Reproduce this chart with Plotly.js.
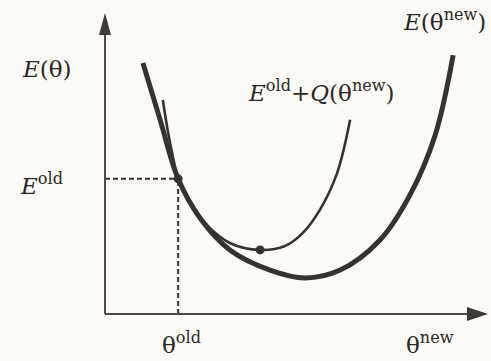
<!DOCTYPE html>
<html>
<head>
<meta charset="utf-8">
<script src="https://cdn.plot.ly/plotly-3.0.1.min.js"></script>
<style>
  html, body { margin: 0; padding: 0; background: #fbfaf6; }
  #chart { width: 491px; height: 361px; }
</style>
</head>
<body>
<div id="chart"></div>
<script>
// True error function E(theta), sampled along the thick curve
var thetaE = [0.99, 1.44, 1.91, 2.48, 3.26, 4.31, 5.22, 6.14, 7.18, 7.96, 8.62, 9.09];
var valuesE = [8.34, 6.45, 4.49, 3.19, 2.13, 1.46, 1.20, 1.46, 2.46, 3.95, 5.94, 8.60];

// Upper bound E_old + Q(theta_new), tangent to E at theta_old
var thetaQ = [1.51, 1.64, 1.78, 1.91, 2.22, 2.61, 3.26, 4.05, 4.70, 5.14, 5.61, 6.06, 6.40];
var valuesQ = [7.11, 6.08, 5.18, 4.49, 3.69, 3.02, 2.36, 2.13, 2.26, 2.66, 3.46, 4.68, 6.45];

// Current parameters and the minimiser of the bound
var thetaOld = 1.91, energyOld = 4.49;
var thetaNew = 4.05, boundNew = 2.13;

var ink = '#36322d';
var serif = 'DejaVu Serif';

var traces = [
  { x: [0, thetaOld], y: [energyOld, energyOld], mode: 'lines',
    line: { color: ink, width: 2, dash: '5px,3px' }, hoverinfo: 'skip' },
  { x: [thetaOld, thetaOld], y: [0, energyOld], mode: 'lines',
    line: { color: ink, width: 2, dash: '5px,3px' }, hoverinfo: 'skip' },
  { x: thetaQ, y: valuesQ, mode: 'lines',
    line: { color: ink, width: 2.6, shape: 'spline', smoothing: 1 } },
  { x: thetaE, y: valuesE, mode: 'lines',
    line: { color: ink, width: 5, shape: 'spline', smoothing: 1 } },
  { x: [thetaOld, thetaNew], y: [energyOld, boundNew], mode: 'markers',
    marker: { color: ink, size: 9 }, cliponaxis: false }
];

// pixel position -> paper coordinates for the plot box (105..488 x 13..314)
function px(x) { return (x - 105) / 383; }
function py(y) { return (314 - y) / 301; }

function label(text, x, y, yanchor) {
  return { text: text, xref: 'paper', yref: 'paper', x: px(x), y: py(y),
           xanchor: 'left', yanchor: yanchor || 'middle', showarrow: false,
           font: { family: serif, size: 23, color: '#2b2825' } };
}

var layout = {
  width: 491, height: 361,
  margin: { l: 105, r: 3, t: 13, b: 47, pad: 0 },
  font: { family: serif },
  paper_bgcolor: '#fbfaf6', plot_bgcolor: '#fbfaf6',
  showlegend: false,
  xaxis: { range: [0, 10], visible: false, fixedrange: true },
  yaxis: { range: [0, 10], visible: false, fixedrange: true },
  shapes: [
    { type: 'line', xref: 'paper', yref: 'paper', x0: 0, y0: 0, x1: 0, y1: py(32),
      line: { color: '#4e4944', width: 2 } },
    { type: 'line', xref: 'paper', yref: 'paper', x0: 0, y0: 0, x1: px(470), y1: 0,
      line: { color: '#4e4944', width: 2 } },
    { type: 'path', xref: 'paper', yref: 'paper',
      path: 'M ' + px(105) + ' ' + py(13) + ' L ' + px(111) + ' ' + py(35) + ' L ' + px(99) + ' ' + py(35) + ' Z',
      fillcolor: '#3e3a35', line: { width: 0 } },
    { type: 'path', xref: 'paper', yref: 'paper',
      path: 'M ' + px(488) + ' ' + py(314) + ' L ' + px(467) + ' ' + py(307) + ' L ' + px(467) + ' ' + py(321) + ' Z',
      fillcolor: '#3e3a35', line: { width: 0 } }
  ],
  annotations: [
    label('<i>E</i>(θ)', 20, 69),
    label('<i>E</i><sup>old</sup>', 18, 184),
    label('θ<sup>old</sup>', 160, 360, 'bottom'),
    label('θ<sup>new</sup>', 404, 360, 'bottom'),
    label('<i>E</i>(θ<sup>new</sup>)', 401, 20),
    label('<i>E</i><sup>old</sup>+<i>Q</i>(θ<sup>new</sup>)', 246, 91)
  ]
};

Plotly.newPlot('chart', traces, layout, { staticPlot: true, displayModeBar: false });
</script>
</body>
</html>
